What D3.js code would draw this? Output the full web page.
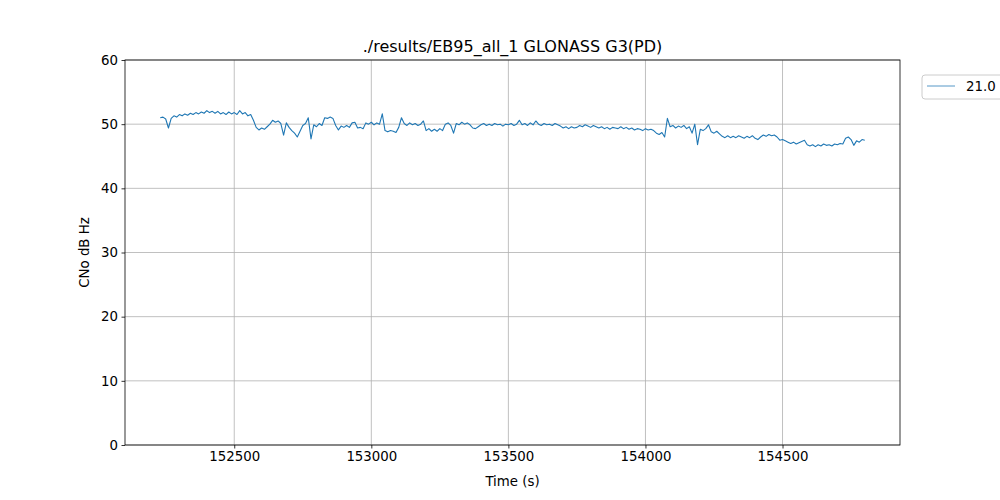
<!DOCTYPE html>
<html>
<head>
<meta charset="utf-8">
<script src="https://cdn.jsdelivr.net/npm/d3@7"></script>
<style>
  body { margin: 0; background: #fff; }
  text { font-family: "DejaVu Sans", sans-serif; }
</style>
</head>
<body>
<div id="chart"></div>
<script>
var title = "./results/EB95_all_1 GLONASS G3(PD)";
var seriesName = "21.0";
var yTicks = [0, 10, 20, 30, 40, 50, 60];
var xTicks = [152500, 153000, 153500, 154000, 154500];

// time (s), every 10 s
var times = [
  152230, 152240, 152250, 152260, 152270, 152280, 152290, 152300, 152310, 152320,
  152330, 152340, 152350, 152360, 152370, 152380, 152390, 152400, 152410, 152420,
  152430, 152440, 152450, 152460, 152470, 152480, 152490, 152500, 152510, 152520,
  152530, 152540, 152550, 152560, 152570, 152580, 152590, 152600, 152610, 152620,
  152630, 152640, 152650, 152660, 152670, 152680, 152690, 152700, 152710, 152720,
  152730, 152740, 152750, 152760, 152770, 152780, 152790, 152800, 152810, 152820,
  152830, 152840, 152850, 152860, 152870, 152880, 152890, 152900, 152910, 152920,
  152930, 152940, 152950, 152960, 152970, 152980, 152990, 153000, 153010, 153020,
  153030, 153040, 153050, 153060, 153070, 153080, 153090, 153100, 153110, 153120,
  153130, 153140, 153150, 153160, 153170, 153180, 153190, 153200, 153210, 153220,
  153230, 153240, 153250, 153260, 153270, 153280, 153290, 153300, 153310, 153320,
  153330, 153340, 153350, 153360, 153370, 153380, 153390, 153400, 153410, 153420,
  153430, 153440, 153450, 153460, 153470, 153480, 153490, 153500, 153510, 153520,
  153530, 153540, 153550, 153560, 153570, 153580, 153590, 153600, 153610, 153620,
  153630, 153640, 153650, 153660, 153670, 153680, 153690, 153700, 153710, 153720,
  153730, 153740, 153750, 153760, 153770, 153780, 153790, 153800, 153810, 153820,
  153830, 153840, 153850, 153860, 153870, 153880, 153890, 153900, 153910, 153920,
  153930, 153940, 153950, 153960, 153970, 153980, 153990, 154000, 154010, 154020,
  154030, 154040, 154050, 154060, 154070, 154080, 154090, 154100, 154110, 154120,
  154130, 154140, 154150, 154160, 154170, 154180, 154190, 154200, 154210, 154220,
  154230, 154240, 154250, 154260, 154270, 154280, 154290, 154300, 154310, 154320,
  154330, 154340, 154350, 154360, 154370, 154380, 154390, 154400, 154410, 154420,
  154430, 154440, 154450, 154460, 154470, 154480, 154490, 154500, 154510, 154520,
  154530, 154540, 154550, 154560, 154570, 154580, 154590, 154600, 154610, 154620,
  154630, 154640, 154650, 154660, 154670, 154680, 154690, 154700, 154710, 154720,
  154730, 154740, 154750, 154760, 154770, 154780, 154790, 154800
];

// CNo (dB Hz)
var cno = [
  51.0, 51.1, 50.8, 49.4, 50.9, 51.3, 51.1, 51.5, 51.3, 51.6,
  51.4, 51.7, 51.5, 51.8, 51.6, 51.9, 51.7, 52.1, 51.8, 52.0,
  51.7, 52.0, 51.6, 51.8, 51.5, 51.9, 51.6, 51.8, 51.5, 52.1,
  51.6, 51.8, 51.3, 51.5, 50.6, 49.5, 49.1, 49.4, 49.2, 49.6,
  50.0, 50.6, 50.3, 50.5, 50.1, 48.3, 50.2, 49.5, 49.0, 48.6,
  48.0, 48.9, 49.8, 50.1, 51.0, 47.7, 49.9, 49.6, 50.1, 49.8,
  51.0, 50.9, 51.1, 50.9, 49.8, 49.1, 49.7, 49.5, 49.8, 49.5,
  50.2, 50.3, 49.4, 49.5, 49.3, 50.2, 50.0, 50.3, 49.9, 50.2,
  50.0, 51.6, 49.0, 48.8, 49.0, 48.9, 48.7, 49.5, 51.0, 50.1,
  49.8, 50.2, 49.9, 50.1, 49.8, 50.0, 50.5, 49.0, 49.3, 48.9,
  49.2, 48.9, 49.3, 49.0, 50.0, 50.2, 49.8, 48.6, 50.1, 49.9,
  50.3, 50.0, 50.2, 49.9, 49.4, 49.3, 49.6, 49.9, 50.1, 49.8,
  50.0, 49.8, 50.1, 49.9, 50.0, 49.7, 50.0, 49.9, 50.1, 49.8,
  50.0, 50.6, 49.9, 50.1, 49.8, 50.2, 49.9, 50.5, 50.0, 49.8,
  50.1, 49.9, 50.0, 49.8, 50.1, 49.9, 49.7, 49.4, 49.6, 49.3,
  49.6, 49.4, 49.5, 49.8, 49.6, 49.9, 49.7, 49.5, 49.8, 49.6,
  49.4, 49.6, 49.3, 49.5, 49.2, 49.5, 49.4, 49.3, 49.6, 49.3,
  49.5, 49.2, 49.4, 49.1, 49.3, 49.2, 49.0, 49.3, 49.1, 49.2,
  49.0, 48.6, 48.4, 48.7, 48.0, 50.9, 49.6, 49.8, 49.4, 49.7,
  49.5, 49.8, 49.3, 49.6, 48.6, 50.0, 46.8, 49.2, 49.0, 49.3,
  49.9, 48.8, 48.6, 48.9, 48.5, 48.1, 47.9, 48.2, 47.9, 48.1,
  47.9, 48.2, 48.0, 47.8, 48.1, 47.9, 48.2, 47.8, 47.6, 48.0,
  48.3, 48.1, 48.4, 48.2, 48.3, 48.0, 47.5, 47.6, 47.4, 47.2,
  47.0, 47.2, 46.9, 47.1, 47.3, 47.5, 46.8, 46.6, 46.8, 46.5,
  46.8, 46.6, 46.9, 46.7, 46.8, 46.6, 46.9, 46.8, 47.0, 46.9,
  47.8, 48.0, 47.6, 46.7, 47.4, 47.2, 47.6, 47.5
];

var width = 1000, height = 500;
var margin = {top: 60, right: 100, bottom: 55, left: 125};
var innerW = width - margin.left - margin.right;
var innerH = height - margin.top - margin.bottom;

var svg = d3.select("#chart")
    .append("svg")
    .attr("width", width)
    .attr("height", height);

// matplotlib style 5% padding on x
var ext = d3.extent(times);
var pad = (ext[1] - ext[0]) * 0.05;
var x = d3.scaleLinear()
    .domain([ext[0] - pad, ext[1] + pad])
    .range([margin.left, margin.left + innerW]);

var y = d3.scaleLinear()
    .domain([0, 60])
    .range([margin.top + innerH, margin.top]);

// grid
svg.append("g")
    .selectAll("line.gx")
    .data(xTicks)
    .enter()
    .append("line")
    .attr("x1", function(d){ return x(d); })
    .attr("x2", function(d){ return x(d); })
    .attr("y1", margin.top)
    .attr("y2", margin.top + innerH)
    .style("stroke", "#b0b0b0")
    .style("stroke-width", 0.8);

svg.append("g")
    .selectAll("line.gy")
    .data(yTicks)
    .enter()
    .append("line")
    .attr("x1", margin.left)
    .attr("x2", margin.left + innerW)
    .attr("y1", function(d){ return y(d); })
    .attr("y2", function(d){ return y(d); })
    .style("stroke", "#b0b0b0")
    .style("stroke-width", 0.8);

// the trace
var points = times.map(function(t, i){ return [t, cno[i]]; });
var line = d3.line()
    .x(function(d){ return x(d[0]); })
    .y(function(d){ return y(d[1]); });

svg.append("path")
    .datum(points)
    .attr("d", line)
    .style("fill", "none")
    .style("stroke", "#1f77b4")
    .style("stroke-width", 1.1)
    .style("stroke-linejoin", "round");

// axes
var xAxis = svg.append("g")
    .attr("transform", "translate(0," + (margin.top + innerH) + ")")
    .call(d3.axisBottom(x).tickValues(xTicks).tickSize(3.5).tickPadding(3.5).tickFormat(d3.format("d")));

var yAxis = svg.append("g")
    .attr("transform", "translate(" + margin.left + ",0)")
    .call(d3.axisLeft(y).tickValues(yTicks).tickSize(3.5).tickPadding(3.5).tickFormat(d3.format("d")));

[xAxis, yAxis].forEach(function(a){
    a.select(".domain").remove();
    a.selectAll("text")
        .style("font-family", "DejaVu Sans")
        .style("font-size", "13.33px")
        .style("fill", "#000");
    a.selectAll("line").style("stroke", "#000").style("stroke-width", 0.8);
});

// frame
svg.append("rect")
    .attr("x", margin.left)
    .attr("y", margin.top)
    .attr("width", innerW)
    .attr("height", innerH)
    .style("fill", "none")
    .style("stroke", "#000")
    .style("stroke-width", 0.8);

// labels
svg.append("text")
    .attr("x", margin.left + innerW / 2)
    .attr("y", 52)
    .attr("text-anchor", "middle")
    .style("font-size", "16px")
    .text(title);

svg.append("text")
    .attr("x", margin.left + innerW / 2)
    .attr("y", 486)
    .attr("text-anchor", "middle")
    .style("font-size", "13.33px")
    .text("Time (s)");

svg.append("text")
    .attr("transform", "translate(89," + (margin.top + innerH / 2) + ") rotate(-90)")
    .attr("text-anchor", "middle")
    .style("font-size", "13.33px")
    .text("CNo dB Hz");

// legend (runs off the right edge like the original)
var legend = svg.append("g").attr("transform", "translate(922,75)");
legend.append("rect")
    .attr("width", 100)
    .attr("height", 24)
    .attr("rx", 3)
    .style("fill", "#fff")
    .style("fill-opacity", 0.8)
    .style("stroke", "#cccccc")
    .style("stroke-width", 1);
legend.append("line")
    .attr("x1", 5).attr("x2", 33)
    .attr("y1", 11).attr("y2", 11)
    .style("stroke", "#1f77b4")
    .style("stroke-width", 0.75);
legend.append("text")
    .attr("x", 44)
    .attr("y", 16)
    .style("font-size", "13.33px")
    .text(seriesName);
</script>
</body>
</html>
